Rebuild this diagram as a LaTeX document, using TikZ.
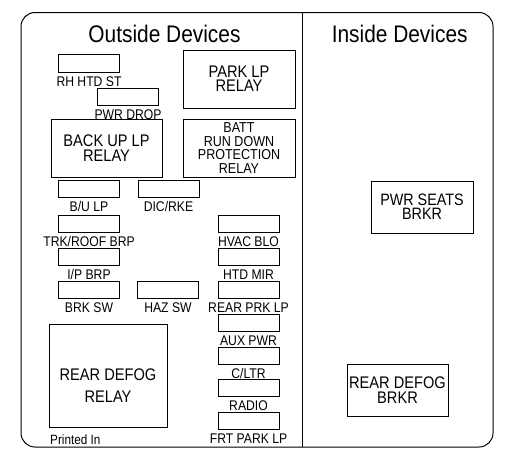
\documentclass[tikz,border=0pt]{standalone}
\usepackage{fontspec}
\setmainfont[FakeStretch=0.87]{Liberation Sans}
\usetikzlibrary{positioning}

\begin{document}
\begin{tikzpicture}[x=1pt, y=-1pt, node distance=3.5pt,
	fuse/.style={draw, rectangle, line width=0.8pt, minimum width=61pt, minimum height=17.5pt, inner sep=0pt},
	relay/.style={draw, rectangle, line width=0.8pt, inner sep=0pt, align=center},
	fuselabel/.style={inner sep=0pt, text height=10pt, text depth=0pt, font=\fontsize{14}{16}\selectfont},
	title/.style={inner sep=0pt, anchor=base, font=\fontsize{24}{28}\selectfont}]

	\useasboundingbox (0,0) rectangle (510,463);

	% Draw outline
	\draw[line width=1pt, rounded corners=14pt] (21,12.5) rectangle (493,447);
	\draw[line width=1pt] (302.5,12.5) -- (302.5,447);

	% Define titles
	\node (outside) [title] at (164.5,42.5) {Outside Devices};
	\node (inside) [title] at (399.7,42.5) {Inside Devices};

	% Define relays
	\node (parklp) [relay, minimum width=112pt, minimum height=58pt, font=\fontsize{16.8}{13.7}\selectfont] at (239,79) {PARK LP\\RELAY};
	\node (backup) [relay, minimum width=111pt, minimum height=58pt, font=\fontsize{16.8}{15.5}\selectfont] at (106.5,148) {BACK UP LP\\RELAY};
	\node (batt) [relay, minimum width=112pt, minimum height=58pt, font=\fontsize{14.4}{13.5}\selectfont] at (239,148) {BATT\\RUN DOWN\\PROTECTION\\RELAY};
	\node (defog) [relay, minimum width=118pt, minimum height=103pt] at (108,375.5) {};
	\node (defog-t) [align=center, inner sep=0pt, font=\fontsize{16.8}{22}\selectfont] at ([yshift=-10pt]defog.center) {REAR DEFOG\\RELAY};

	% Define fuses, left side
	\node (rhhtd) [fuse] at (89,63.5) {};
	\node (rhhtd-l) [fuselabel, below=of rhhtd] {RH HTD ST};
	\node (pwrdrop) [fuse] at (128,97) {};
	\node (pwrdrop-l) [fuselabel, below=of pwrdrop] {PWR DROP};
	\node (bulp) [fuse] at (89,188.75) {};
	\node (bulp-l) [fuselabel, below=of bulp] {B/U LP};
	\node (dicrke) [fuse] at (168.5,188.75) {};
	\node (dicrke-l) [fuselabel, below=of dicrke] {DIC/RKE};
	\node (trkroof) [fuse] at (89,223.75) {};
	\node (trkroof-l) [fuselabel, below=of trkroof] {TRK/ROOF BRP};
	\node (ipbrp) [fuse] at (89,256.75) {};
	\node (ipbrp-l) [fuselabel, below=of ipbrp] {I/P BRP};
	\node (brksw) [fuse] at (89,289.75) {};
	\node (brksw-l) [fuselabel, below=of brksw] {BRK SW};
	\node (hazsw) [fuse] at (168,289.75) {};
	\node (hazsw-l) [fuselabel, below=of hazsw] {HAZ SW};

	% Define fuses, right column
	\node (hvac) [fuse] at (248.5,223.75) {};
	\node (hvac-l) [fuselabel, below=of hvac] {HVAC BLO};
	\node (htdmir) [fuse] at (248.5,256.75) {};
	\node (htdmir-l) [fuselabel, below=of htdmir] {HTD MIR};
	\node (rearprk) [fuse] at (248.5,289.75) {};
	\node (rearprk-l) [fuselabel, below=of rearprk] {REAR PRK LP};
	\node (auxpwr) [fuse] at (248.5,322.75) {};
	\node (auxpwr-l) [fuselabel, below=of auxpwr] {AUX PWR};
	\node (cltr) [fuse] at (248.5,355.75) {};
	\node (cltr-l) [fuselabel, below=of cltr] {C/LTR};
	\node (radio) [fuse] at (248.5,387.75) {};
	\node (radio-l) [fuselabel, below=of radio] {RADIO};
	\node (frtpark) [fuse] at (248.5,420.75) {};
	\node (frtpark-l) [fuselabel, below=of frtpark] {FRT PARK LP};

	\node (printed) [anchor=base west, inner sep=0pt, font=\fontsize{13.5}{16}\selectfont] at (50,444) {Printed In};

	% Define breakers
	\node (pwrseats) [relay, minimum width=102pt, minimum height=52pt, font=\fontsize{16.5}{14}\selectfont] at (422,207) {PWR SEATS\\BRKR};
	\node (defogbrkr) [relay, minimum width=101pt, minimum height=52pt, font=\fontsize{16.8}{15}\selectfont] at (397.5,390) {REAR DEFOG\\BRKR};

\end{tikzpicture}
\end{document}
